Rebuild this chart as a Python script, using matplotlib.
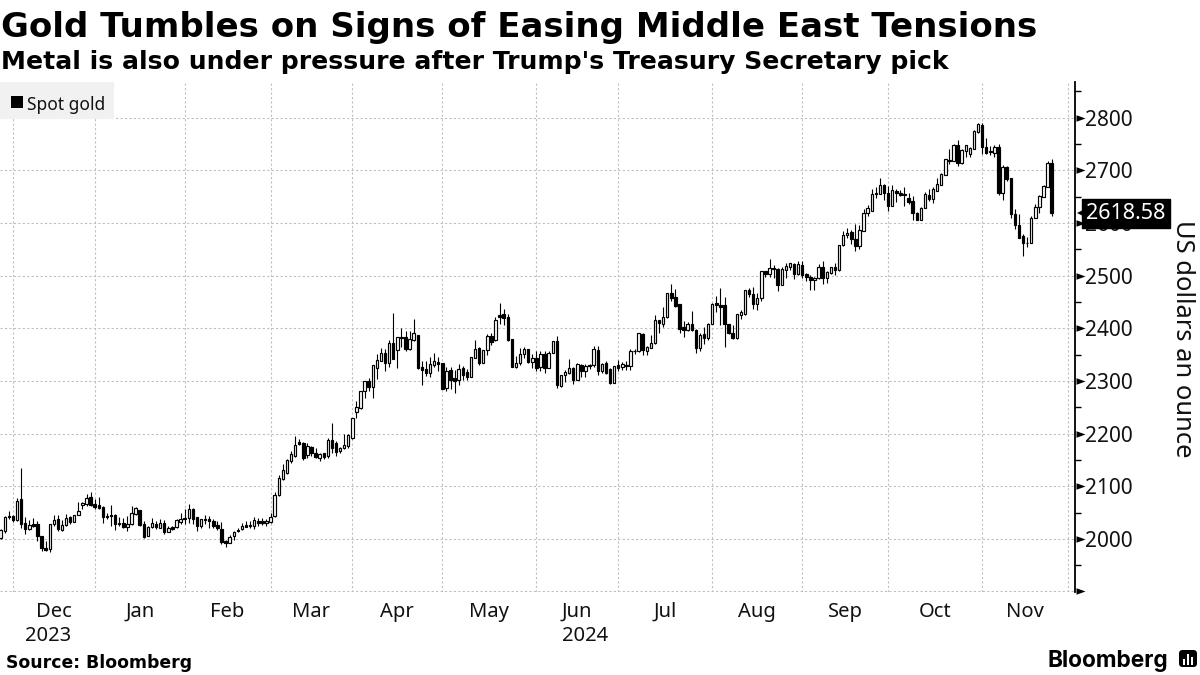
"""
Spot gold candlesticks, Bloomberg style
"""
import numpy as np
import matplotlib
matplotlib.use('Agg')
import matplotlib.pyplot as plt
from matplotlib.patches import FancyBboxPatch, Rectangle
from matplotlib.path import Path

TITLE = "Gold Tumbles on Signs of Easing Middle East Tensions"
SUBTITLE = "Metal is also under pressure after Trump's Treasury Secretary pick"

opens = [
    2001, 2014, 2044, 2044, 2036, 2075, 2030, 2018, 2029, 2029,
    2006, 1983, 1980, 2028, 2038, 2017, 2027, 2041, 2032, 2045,
    2065, 2067, 2080, 2067, 2065, 2060, 2044, 2046, 2046, 2031,
    2030, 2023, 2028, 2047, 2055, 2029, 2005, 2022, 2029, 2020,
    2031, 2013, 2022, 2023, 2032, 2040, 2039, 2056, 2041, 2024,
    2038, 2037, 2034, 2027, 2019, 1995, 1992, 2005, 2017, 2018,
    2027, 2027, 2024, 2034, 2033, 2030, 2032, 2043, 2083, 2113,
    2126, 2147, 2158, 2184, 2183, 2159, 2175, 2164, 2154, 2163,
    2158, 2187, 2183, 2166, 2172, 2177, 2192, 2241, 2249, 2280,
    2300, 2289, 2325, 2337, 2353, 2334, 2373, 2359, 2384, 2383,
    2360, 2377, 2387, 2327, 2323, 2316, 2330, 2336, 2334, 2287,
    2321, 2305, 2301, 2325, 2317, 2308, 2344, 2363, 2335, 2358,
    2385, 2377, 2425, 2427, 2421, 2380, 2327, 2334, 2351, 2360,
    2336, 2343, 2327, 2351, 2325, 2354, 2376, 2291, 2312, 2316,
    2325, 2302, 2330, 2318, 2331, 2330, 2359, 2318, 2335, 2322,
    2297, 2330, 2326, 2331, 2328, 2357, 2356, 2389, 2357, 2363,
    2372, 2416, 2409, 2421, 2468, 2459, 2446, 2402, 2396, 2409,
    2397, 2363, 2389, 2382, 2409, 2449, 2445, 2444, 2409, 2391,
    2381, 2426, 2427, 2473, 2465, 2446, 2457, 2509, 2503, 2514,
    2512, 2483, 2511, 2517, 2523, 2503, 2520, 2503, 2498, 2491,
    2495, 2516, 2496, 2506, 2516, 2510, 2558, 2578, 2583, 2569,
    2556, 2585, 2620, 2623, 2657, 2655, 2672, 2658, 2633, 2661,
    2657, 2654, 2648, 2641, 2620, 2606, 2629, 2654, 2646, 2661,
    2673, 2692, 2718, 2718, 2748, 2715, 2736, 2732, 2741, 2773,
    2787, 2744, 2737, 2734, 2744, 2657, 2707, 2685, 2618, 2597,
    2575, 2563, 2562, 2610, 2631, 2650, 2669, 2715,
]
highs = [
    2018, 2043, 2053, 2046, 2077, 2135, 2042, 2036, 2039, 2034,
    2006, 1995, 2029, 2046, 2046, 2036, 2048, 2043, 2046, 2070,
    2070, 2086, 2089, 2076, 2079, 2063, 2050, 2065, 2048, 2042,
    2039, 2043, 2062, 2061, 2055, 2034, 2025, 2040, 2034, 2038,
    2036, 2024, 2025, 2038, 2050, 2057, 2067, 2059, 2041, 2038,
    2046, 2043, 2038, 2034, 2032, 1997, 2008, 2015, 2021, 2030,
    2034, 2034, 2042, 2040, 2040, 2038, 2050, 2089, 2121, 2142,
    2152, 2167, 2196, 2190, 2184, 2183, 2177, 2173, 2164, 2164,
    2191, 2221, 2186, 2175, 2200, 2200, 2230, 2262, 2280, 2300,
    2305, 2330, 2351, 2363, 2360, 2378, 2430, 2384, 2400, 2395,
    2394, 2417, 2387, 2337, 2337, 2346, 2353, 2346, 2335, 2327,
    2326, 2321, 2332, 2328, 2322, 2346, 2377, 2364, 2359, 2390,
    2392, 2421, 2449, 2436, 2427, 2380, 2347, 2362, 2364, 2360,
    2351, 2356, 2357, 2356, 2356, 2376, 2386, 2311, 2321, 2341,
    2326, 2334, 2332, 2332, 2333, 2366, 2366, 2334, 2338, 2325,
    2328, 2340, 2336, 2337, 2360, 2361, 2392, 2392, 2366, 2387,
    2425, 2416, 2440, 2468, 2484, 2474, 2446, 2413, 2412, 2432,
    2398, 2391, 2403, 2411, 2449, 2461, 2477, 2459, 2409, 2406,
    2428, 2434, 2473, 2476, 2478, 2468, 2509, 2509, 2531, 2520,
    2514, 2517, 2525, 2525, 2525, 2527, 2527, 2506, 2501, 2498,
    2522, 2528, 2508, 2517, 2525, 2558, 2585, 2590, 2587, 2598,
    2596, 2626, 2634, 2664, 2668, 2685, 2675, 2670, 2672, 2665,
    2662, 2669, 2657, 2651, 2621, 2631, 2659, 2664, 2668, 2685,
    2696, 2721, 2740, 2750, 2757, 2741, 2749, 2745, 2776, 2790,
    2790, 2761, 2746, 2748, 2750, 2710, 2709, 2685, 2626, 2617,
    2580, 2573, 2613, 2637, 2654, 2672, 2717, 2721,
]
lows = [
    2000, 2012, 2038, 2032, 2034, 2021, 2010, 2016, 2022, 1995,
    1976, 1976, 1975, 2024, 2015, 2015, 2024, 2029, 2032, 2045,
    2056, 2063, 2063, 2057, 2056, 2030, 2037, 2025, 2017, 2025,
    2021, 2014, 2027, 2046, 2025, 2001, 2005, 2021, 2018, 2020,
    2010, 2013, 2017, 2020, 2029, 2029, 2030, 2029, 2015, 2020,
    2029, 2021, 2020, 2017, 1991, 1985, 1992, 1997, 2013, 2017,
    2022, 2021, 2018, 2024, 2027, 2025, 2030, 2042, 2081, 2112,
    2124, 2145, 2156, 2178, 2150, 2153, 2158, 2154, 2148, 2151,
    2153, 2164, 2158, 2164, 2170, 2173, 2189, 2229, 2247, 2267,
    2280, 2268, 2304, 2337, 2318, 2327, 2342, 2325, 2364, 2356,
    2359, 2375, 2323, 2292, 2310, 2307, 2326, 2318, 2284, 2280,
    2284, 2277, 2292, 2302, 2302, 2307, 2343, 2331, 2334, 2349,
    2368, 2376, 2408, 2406, 2375, 2326, 2324, 2330, 2343, 2335,
    2324, 2318, 2318, 2315, 2324, 2353, 2286, 2289, 2298, 2313,
    2294, 2301, 2308, 2307, 2322, 2327, 2312, 2316, 2314, 2294,
    2297, 2319, 2320, 2320, 2321, 2351, 2355, 2349, 2349, 2362,
    2371, 2391, 2402, 2420, 2451, 2441, 2392, 2383, 2394, 2394,
    2353, 2356, 2370, 2377, 2408, 2431, 2406, 2365, 2389, 2379,
    2380, 2418, 2425, 2460, 2437, 2434, 2451, 2498, 2498, 2495,
    2470, 2482, 2495, 2511, 2493, 2502, 2495, 2490, 2473, 2473,
    2494, 2485, 2487, 2503, 2501, 2509, 2557, 2572, 2560, 2546,
    2551, 2585, 2614, 2623, 2647, 2655, 2644, 2623, 2632, 2640,
    2651, 2632, 2637, 2605, 2605, 2605, 2629, 2642, 2638, 2661,
    2673, 2691, 2713, 2717, 2708, 2713, 2726, 2725, 2741, 2772,
    2731, 2732, 2729, 2726, 2653, 2643, 2680, 2610, 2589, 2571,
    2537, 2554, 2562, 2609, 2619, 2650, 2668, 2613,
]
closes = [
    2016, 2042, 2041, 2036, 2072, 2029, 2018, 2027, 2025, 2005,
    1982, 1978, 2029, 2036, 2018, 2027, 2040, 2032, 2046, 2053,
    2069, 2078, 2065, 2061, 2058, 2041, 2041, 2043, 2028, 2028,
    2023, 2029, 2050, 2058, 2027, 2004, 2023, 2030, 2022, 2031,
    2013, 2021, 2019, 2035, 2038, 2037, 2056, 2038, 2024, 2037,
    2036, 2033, 2024, 2020, 1994, 1992, 2004, 2013, 2014, 2025,
    2023, 2024, 2036, 2031, 2030, 2034, 2042, 2084, 2115, 2130,
    2149, 2161, 2179, 2180, 2153, 2177, 2164, 2156, 2162, 2156,
    2187, 2172, 2165, 2173, 2178, 2197, 2230, 2251, 2280, 2299,
    2289, 2330, 2339, 2353, 2334, 2372, 2342, 2384, 2382, 2360,
    2379, 2391, 2325, 2321, 2316, 2332, 2338, 2333, 2285, 2318,
    2302, 2300, 2323, 2311, 2308, 2346, 2360, 2334, 2358, 2385,
    2374, 2416, 2422, 2420, 2378, 2327, 2334, 2351, 2360, 2336,
    2343, 2325, 2351, 2325, 2354, 2376, 2292, 2311, 2317, 2325,
    2302, 2332, 2318, 2329, 2328, 2360, 2318, 2333, 2316, 2296,
    2328, 2325, 2332, 2328, 2356, 2356, 2392, 2358, 2364, 2372,
    2415, 2411, 2421, 2468, 2458, 2443, 2399, 2396, 2409, 2396,
    2363, 2387, 2382, 2409, 2447, 2445, 2441, 2408, 2391, 2381,
    2427, 2431, 2473, 2465, 2446, 2457, 2508, 2504, 2514, 2512,
    2482, 2512, 2518, 2525, 2503, 2522, 2501, 2498, 2492, 2496,
    2516, 2495, 2507, 2516, 2510, 2558, 2577, 2582, 2569, 2556,
    2587, 2620, 2628, 2656, 2656, 2672, 2658, 2632, 2662, 2657,
    2654, 2655, 2640, 2619, 2605, 2629, 2656, 2645, 2664, 2674,
    2693, 2721, 2719, 2748, 2715, 2738, 2748, 2742, 2774, 2788,
    2744, 2734, 2735, 2744, 2657, 2707, 2684, 2617, 2596, 2572,
    2562, 2562, 2610, 2631, 2651, 2670, 2715, 2618.58,
]

# first trading day of each month, counted in candles
month_starts = [3, 23, 45, 66, 86, 108, 131, 151, 174, 196, 217, 240, 261]
month_labels = ['Dec', 'Jan', 'Feb', 'Mar', 'Apr', 'May', 'Jun', 'Jul', 'Aug', 'Sep', 'Oct', 'Nov']
years = ['2023', '2024']
year_positions = [11.5, 143]
price_ticks = [1900, 2000, 2100, 2200, 2300, 2400, 2500, 2600, 2700, 2800]
price_labels = ['', '2000', '2100', '2200', '2300', '2400', '2500', '2600', '2700', '2800']
minor_ticks = [1950, 2050, 2150, 2250, 2350, 2450, 2550, 2650, 2750, 2850]
last_price = 2618.58

LABEL_FONT = 'Noto Sans'
W, H = 1200, 675

fig = plt.figure(figsize=(12, 6.75), dpi=100, facecolor='white')
ax = fig.add_axes([0, (H - 592) / H, 1075 / W, (592 - 82) / H])

x = np.arange(len(closes))
o = np.array(opens)
c = np.array(closes)

# candles
ax.vlines(x, lows, highs, color='black', linewidth=0.8, zorder=3)
colors = ['white' if b >= a else 'black' for a, b in zip(o, c)]
ax.bar(x, np.abs(c - o), bottom=np.minimum(o, c), width=0.6, color=colors,
       edgecolor='black', linewidth=0.85, zorder=4)

ax.set_xlim(-0.16, 262.7)
ax.set_ylim(1899, 2868)

# grid
ax.set_xticks(month_starts)
ax.set_xticklabels([])
ax.tick_params(axis='x', length=0)
ax.set_yticks(price_ticks)
ax.set_yticklabels(price_labels, family=LABEL_FONT, fontsize=15, color='#111111')
ax.set_yticks(minor_ticks, minor=True)
ax.yaxis.tick_right()
ax.tick_params(axis='y', which='major', length=0, pad=7)
ax.tick_params(axis='y', which='minor', length=4, width=1.0, color='black')
ax.grid(True, which='major', color='#c0c0c0', linestyle=(0, (2, 2)), linewidth=0.8, zorder=0)
ax.set_axisbelow(True)

for side in ['top', 'left', 'bottom']:
    ax.spines[side].set_visible(False)
ax.spines['right'].set_linewidth(1.3)
ax.spines['right'].set_color('black')

# little arrow ticks on the price axis
arrow = Path([(0, -0.36), (1, 0), (0, 0.36), (0, -0.36)])
ax.plot(np.ones(len(price_ticks)) * 1.0005, price_ticks, linestyle='none', marker=arrow,
        markersize=13, color='black', markeredgewidth=0,
        transform=ax.get_yaxis_transform(), clip_on=False, zorder=5)

# month and year labels
trans = ax.get_xaxis_transform()
for i, label in enumerate(month_labels):
    mid = (month_starts[i] + month_starts[i + 1]) / 2
    ax.text(mid, -20 / 510, label, transform=trans, ha='center', va='center',
            family=LABEL_FONT, fontsize=14.5, color='#111111')
for pos, label in zip(year_positions, years):
    ax.text(pos, -44 / 510, label, transform=trans, ha='center', va='center',
            family=LABEL_FONT, fontsize=14.5, color='#111111')

# last price tag
ytrans = ax.get_yaxis_transform()
ax.plot([1.0102], [last_price], marker='<', markersize=13, color='black', markeredgewidth=0,
        transform=ytrans, clip_on=False, zorder=6)
ax.text(1.0105, last_price, f'{last_price:.2f}', transform=ytrans, ha='left', va='center',
        family=LABEL_FONT, fontsize=15.5, color='white', zorder=7, clip_on=False,
        bbox=dict(boxstyle='square,pad=0.18', facecolor='black', edgecolor='black'))

# legend chip
fig.add_artist(Rectangle((0, 1 - 119 / H), 114 / W, 37 / H, transform=fig.transFigure,
                         facecolor='#f1f1f1', edgecolor='none', zorder=1))
fig.add_artist(Rectangle((11 / W, 1 - 108 / H), 12 / W, 12 / H, transform=fig.transFigure,
                         facecolor='black', edgecolor='none', zorder=6))
fig.text(27 / W, 1 - 104.5 / H, 'Spot gold', family=LABEL_FONT, fontsize=12.5, va='center',
         color='#111111', zorder=6)

# headings
fig.text(1 / W, 1 - 27 / H, TITLE, family='DejaVu Sans', fontweight='bold', fontsize=24.5,
         va='center', color='black')
fig.text(1 / W, 1 - 62 / H, SUBTITLE, family='DejaVu Sans', fontweight='bold', fontsize=18.1,
         va='center', color='black')
fig.text(1183 / W, 1 - 339 / H, 'US dollars an ounce', family=LABEL_FONT, fontsize=18.4,
         rotation=-90, ha='center', va='center', color='#111111')

# footer
fig.text(6 / W, 1 - 663 / H, 'Source: Bloomberg', family='DejaVu Sans', fontweight='bold',
         fontsize=12.4, va='center', color='black')
fig.text(1168 / W, 1 - 661.5 / H, 'Bloomberg', family='Inter', fontweight='bold', fontsize=16.3,
         ha='right', va='center', color='black')
fig.add_artist(FancyBboxPatch((1179 / W, 1 - 667 / H), 18 / W, 17 / H,
                              boxstyle='round,pad=0,rounding_size=0.003',
                              transform=fig.transFigure, facecolor='black', edgecolor='none',
                              mutation_aspect=W / H))
for bx, bh in zip([1183, 1187, 1191], [6, 11, 8]):
    fig.add_artist(Rectangle((bx / W, 1 - 665 / H), 2 / W, bh / H, transform=fig.transFigure,
                             facecolor='white', edgecolor='none', zorder=3))

fig.savefig('out.png', dpi=100)
